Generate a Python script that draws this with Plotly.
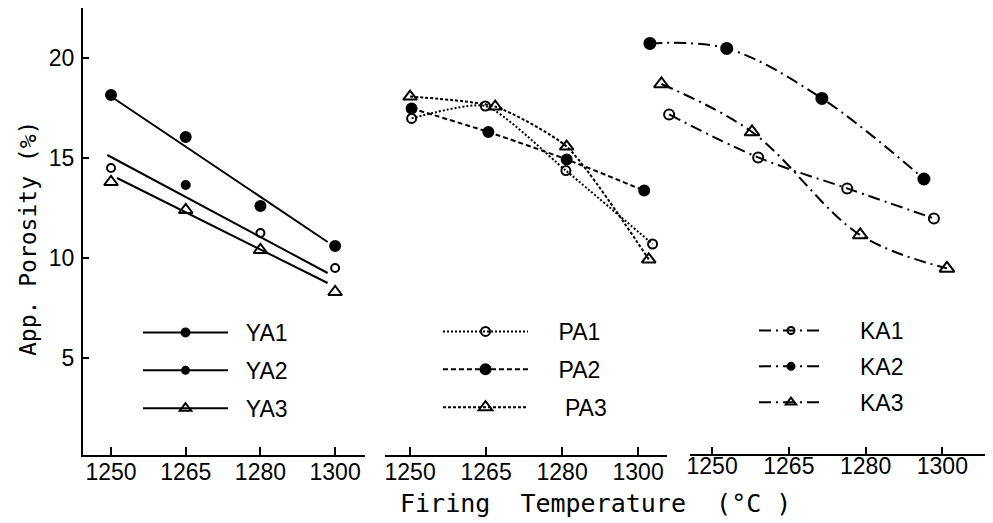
import plotly.graph_objects as go

# ---------------- data ----------------
temp_labels = ["1250", "1265", "1280", "1300"]
temp_pos = [0, 1, 2, 3]

# Panel 1 (YA): measured points + straight fitted lines
YA_x = [0, 1, 2, 3]
YA1_y = [18.15, 16.05, 12.6, 10.6]
YA2_y = [14.5, 13.65, 11.25, 9.5]
YA3_y = [13.8, 12.4, 10.4, 8.3]
YA1_fit_x = [0.03, 2.9]
YA1_fit_y = [18.0, 10.8]
YA2_fit_x = [-0.05, 2.9]
YA2_fit_y = [15.15, 9.25]
YA3_fit_x = [0.08, 2.9]
YA3_fit_y = [14.0, 8.75]

# Panel 2 (PA)
PA1_x = [0.02, 0.99, 2.05, 3.19]
PA1_y = [16.98, 17.6, 14.37, 10.7]
PA2_x = [0.02, 1.03, 2.06, 3.08]
PA2_y = [17.48, 16.3, 14.93, 13.37]
PA3_x = [0.0, 1.12, 2.06, 3.14]
PA3_y = [18.07, 17.57, 15.57, 9.93]

# Panel 3 (KA)
KA1_x = [-0.56, 0.60, 1.76, 2.89]
KA1_y = [17.18, 15.03, 13.48, 11.98]
KA2_x = [-0.81, 0.19, 1.43, 2.76]
KA2_y = [20.73, 20.48, 17.98, 13.95]
KA3_x = [-0.66, 0.52, 1.93, 3.06]
KA3_y = [18.7, 16.3, 11.15, 9.48]

y_ticks = [5, 10, 15, 20]

# ---------------- layout helpers ----------------
# the page body adds an 8px offset; figure sized so that it fills the window
OFF = 8
W, H = 993 - OFF, 523 - OFF
L, R, T, B = 83 - OFF, 0, 8 - OFF, 523 - 455
PW = W - L - R
PH = H - T - B


def px_x(px):
    """screen px -> paper x"""
    return (px - OFF - L) / PW


def px_y(py):
    """screen px -> paper y"""
    return (H - B - (py - OFF)) / PH


K = "black"
SANS = "Liberation Sans, Arial, sans-serif"
MONO = "DejaVu Sans Mono, monospace"
NB = "\u00a0"
KA_DASH = "12px,5px,2px,5px"

fig = go.Figure()


def mk(symbol, size, lw=2):
    return dict(symbol=symbol, size=size, color=K, line=dict(color=K, width=lw))


# ---- panel 1 ----
for fx, fy in [(YA1_fit_x, YA1_fit_y), (YA2_fit_x, YA2_fit_y), (YA3_fit_x, YA3_fit_y)]:
    fig.add_trace(go.Scatter(x=fx, y=fy, mode="lines", line=dict(color=K, width=2),
                             xaxis="x", yaxis="y", showlegend=False))
fig.add_trace(go.Scatter(x=YA_x, y=YA1_y, mode="markers", marker=mk("circle", 10),
                         xaxis="x", yaxis="y", showlegend=False))
fig.add_trace(go.Scatter(x=YA_x, y=YA2_y, mode="markers",
                         marker=dict(symbol=["circle-open", "circle", "circle-open", "circle-open"],
                                     size=8, color=K, line=dict(color=K, width=2)),
                         xaxis="x", yaxis="y", showlegend=False))
fig.add_trace(go.Scatter(x=YA_x, y=YA3_y, mode="markers", marker=mk("triangle-up-open", 12),
                         xaxis="x", yaxis="y", showlegend=False))
# legend entries for panel 1
for name, sym, sz in [("YA1", "circle", 8), ("YA2", "circle", 7), ("YA3", "triangle-up-open", 10)]:
    fig.add_trace(go.Scatter(x=[None], y=[None], mode="lines+markers", name=NB * 2 + name,
                             line=dict(color=K, width=2), marker=mk(sym, sz),
                             xaxis="x", yaxis="y", legend="legend", legendgroup=name))

# ---- panel 2 ----
for name, xs, ys, sym, sz, dash, pad in [
    ("PA1", PA1_x, PA1_y, "circle-open", 9, "2px,2px", 4),
    ("PA2", PA2_x, PA2_y, "circle", 10, "5px,3px", 4),
    ("PA3", PA3_x, PA3_y, "triangle-up-open", 12, "3px,2px", 5),
]:
    fig.add_trace(go.Scatter(x=xs, y=ys, mode="lines+markers", name=NB * pad + name,
                             line=dict(color=K, width=2, dash=dash, shape="spline", smoothing=0.6),
                             marker=mk(sym, sz), xaxis="x2", yaxis="y",
                             legend="legend2", legendgroup=name, cliponaxis=False))

# ---- panel 3 ----
for name, xs, ys, sym, sz, lsz in [
    ("KA1", KA1_x, KA1_y, "circle-open", 10, 7),
    ("KA2", KA2_x, KA2_y, "circle", 11, 7),
    ("KA3", KA3_x, KA3_y, "triangle-up-open", 13, 9),
]:
    fig.add_trace(go.Scatter(x=xs, y=ys, mode="lines+markers", name=name,
                             line=dict(color=K, width=2, dash=KA_DASH, shape="spline", smoothing=1),
                             marker=mk(sym, sz), xaxis="x3", yaxis="y",
                             showlegend=False, cliponaxis=False))
    fig.add_trace(go.Scatter(x=[None], y=[None], mode="lines+markers", name=NB * 5 + name,
                             line=dict(color=K, width=2, dash=KA_DASH), marker=mk(sym, lsz),
                             xaxis="x3", yaxis="y", legend="legend3", legendgroup=name))

xcommon = dict(showgrid=False, zeroline=False, showline=True, linecolor=K, linewidth=2,
               ticks="inside", ticklen=8, tickwidth=2, tickcolor=K,
               tickmode="array", tickvals=temp_pos, ticktext=temp_labels,
               tickfont=dict(family=SANS, size=23, color=K), anchor="y", fixedrange=True,
               ticklabelstandoff=-5)


def leg(x, y, iw, gap):
    return dict(x=x, y=y, font=dict(family=SANS, size=23, color=K), bgcolor="rgba(0,0,0,0)",
                xanchor="left", yanchor="top", itemwidth=iw, tracegroupgap=gap,
                itemclick=False, itemdoubleclick=False)


fig.update_layout(
    width=W, height=H,
    margin=dict(l=L, r=R, t=T, b=B, pad=0),
    paper_bgcolor="white", plot_bgcolor="rgba(0,0,0,0)",
    xaxis=dict(domain=[0, px_x(365)], range=[-0.375, 3.40], **xcommon),
    xaxis2=dict(domain=[px_x(385), px_x(667)], range=[-0.33, 3.38], **xcommon),
    xaxis3=dict(domain=[px_x(620), 1], range=[-1.2, 3.66], **{**xcommon, "showline": False}),
    yaxis=dict(domain=[0, 1], range=[0.15, 22.5], showgrid=False, zeroline=False,
               showline=True, linecolor=K, linewidth=2, ticks="inside", ticklen=6,
               tickwidth=2, tickcolor=K, tickmode="array", tickvals=y_ticks,
               tickfont=dict(family=SANS, size=23, color=K), anchor="x",
               ticklabelstandoff=2, fixedrange=True),
    legend=leg(px_x(138), px_y(311), 85, 5),
    legend2=leg(px_x(438), px_y(310), 85, 5),
    legend3=leg(px_x(754), px_y(309), 64, 3),
    showlegend=True,
    shapes=[dict(type="line", xref="paper", yref="paper", x0=px_x(690), x1=1, y0=0, y1=0,
                 line=dict(color=K, width=2))],
    annotations=[
        dict(text="Firing" + NB * 2 + "Temperature" + NB * 2 + "(°C" + NB + ")", xref="paper", yref="paper",
             x=px_x(595), y=px_y(503), xanchor="center", yanchor="middle", showarrow=False,
             font=dict(family=MONO, size=25, color=K)),
        dict(text="App." + NB + "Porosity" + NB + "(%)", xref="paper", yref="paper", textangle=-90,
             x=px_x(28), y=px_y(239), xanchor="center", yanchor="middle", showarrow=False,
             font=dict(family=MONO, size=23, color=K)),
    ],
)

fig.write_html("out.html")
